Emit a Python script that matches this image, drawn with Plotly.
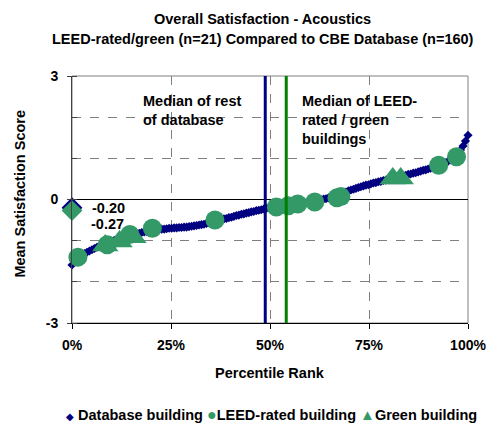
import plotly.graph_objects as go

# ---------------- data ----------------
db_scores = [
    -1.59, -1.50, -1.44, -1.40, -1.36, -1.31, -1.28, -1.25, -1.22, -1.19,
    -1.16, -1.13, -1.10, -1.08, -1.05, -1.03, -1.01, -0.99, -0.97, -0.95,
    -0.93, -0.91, -0.89, -0.88, -0.86, -0.85, -0.83, -0.82, -0.80, -0.79,
    -0.78, -0.77, -0.76, -0.75, -0.74, -0.73, -0.72, -0.72, -0.71, -0.70,
    -0.70, -0.69, -0.69, -0.68, -0.68, -0.67, -0.67, -0.66, -0.65, -0.64,
    -0.63, -0.62, -0.61, -0.60, -0.58, -0.57, -0.55, -0.54, -0.52, -0.51,
    -0.49, -0.47, -0.46, -0.44, -0.43, -0.41, -0.39, -0.38, -0.36, -0.35,
    -0.33, -0.32, -0.30, -0.29, -0.27, -0.26, -0.25, -0.23, -0.22, -0.20,
    -0.20, -0.19, -0.19, -0.18, -0.18, -0.17, -0.17, -0.16, -0.15, -0.14,
    -0.13, -0.12, -0.10, -0.09, -0.08, -0.07, -0.06, -0.04, -0.03, -0.02,
    -0.01, 0.01, 0.02, 0.04, 0.06, 0.08, 0.10, 0.12, 0.14, 0.16,
    0.18, 0.21, 0.23, 0.25, 0.27, 0.29, 0.31, 0.33, 0.35, 0.36,
    0.38, 0.40, 0.41, 0.43, 0.44, 0.46, 0.47, 0.49, 0.50, 0.52,
    0.53, 0.55, 0.56, 0.58, 0.59, 0.61, 0.62, 0.64, 0.65, 0.67,
    0.69, 0.71, 0.72, 0.74, 0.76, 0.78, 0.80, 0.82, 0.84, 0.86,
    0.89, 0.93, 0.96, 1.00, 1.05, 1.12, 1.20, 1.30, 1.42, 1.56,
]
# percentile rank of each database building (rank / (n-1))
db_pct = [100 * i / (len(db_scores) - 1) for i in range(len(db_scores))]

leed_pct = [1.5, 8.9, 14.6, 20.3, 36.1, 51.6, 54.6, 57.0, 61.3, 66.9, 67.9, 92.6, 97.1]
leed_scores = [-1.40, -1.10, -0.85, -0.70, -0.50, -0.18, -0.15, -0.11, -0.06, 0.04, 0.07, 0.83, 1.04]

green_pct = [8.4, 12.0, 15.5, 81.0, 83.0]
green_scores = [-1.12, -1.02, -0.92, 0.51, 0.51]

median_rest_pct = 48.8
median_leed_pct = 54.1
median_rest_score = -0.20
median_leed_score = -0.27

x_tickvals = [0, 25, 50, 75, 100]
x_ticktext = ["0%", "25%", "50%", "75%", "100%"]
y_tickvals = [-3, 0, 3]
y_ticktext = ["-3", "0", "3"]

NAVY = "#000080"
SEA = "#339966"
GREEN = "#008000"
FONT = "Arial, Liberation Sans, sans-serif"
FS = 14.5

fig = go.Figure()

fig.add_trace(go.Scatter(
    x=db_pct, y=db_scores, mode="markers", cliponaxis=False,
    marker=dict(symbol="diamond", size=7, color=NAVY), showlegend=False))
fig.add_trace(go.Scatter(
    x=leed_pct, y=leed_scores, mode="markers", cliponaxis=False,
    marker=dict(symbol="circle", size=19, color=SEA), showlegend=False))
fig.add_trace(go.Scatter(
    x=green_pct, y=green_scores, mode="markers", cliponaxis=False,
    marker=dict(symbol="triangle-up", size=23, color=SEA), showlegend=False))
# median markers at x = 0
fig.add_trace(go.Scatter(
    x=[0], y=[median_rest_score], mode="markers", cliponaxis=False,
    marker=dict(symbol="diamond", size=16, color=NAVY), showlegend=False))
fig.add_trace(go.Scatter(
    x=[0], y=[median_leed_score], mode="markers", cliponaxis=False,
    marker=dict(symbol="diamond", size=16, color=SEA), showlegend=False))
# median vertical lines
fig.add_trace(go.Scatter(
    x=[median_rest_pct, median_rest_pct], y=[-3, 3], mode="lines",
    line=dict(color=NAVY, width=3), showlegend=False))
fig.add_trace(go.Scatter(
    x=[median_leed_pct, median_leed_pct], y=[-3, 3], mode="lines",
    line=dict(color=GREEN, width=3), showlegend=False))

# plot border (top/right grey)
fig.add_shape(type="rect", xref="paper", yref="paper", x0=0, x1=1, y0=0, y1=1,
              line=dict(color="#808080", width=1), layer="below")

annots = [
    dict(text="<b>Overall Satisfaction - Acoustics</b>", x=0.482, y=1.231),
    dict(text="<b>LEED-rated/green (n=21) Compared to CBE Database (n=160)</b>", x=0.482, y=1.150),
]
for a in annots:
    fig.add_annotation(xref="paper", yref="paper", showarrow=False,
                       xanchor="center", yanchor="middle",
                       font=dict(family=FONT, size=FS, color="black"), **a)

fig.add_annotation(xref="paper", yref="paper", x=-0.130, y=0.522, textangle=-90,
                   xanchor="center", yanchor="middle",
                   text="<b>Mean Satisfaction Score</b>", showarrow=False,
                   font=dict(family=FONT, size=FS, color="black"))
fig.add_annotation(xref="paper", yref="paper", x=0.5, y=-0.204,
                   xanchor="center", yanchor="middle",
                   text="<b>Percentile Rank</b>", showarrow=False,
                   font=dict(family=FONT, size=FS, color="black"))

# data labels of medians
fig.add_annotation(x=4.6, y=median_rest_score, xanchor="left", yanchor="middle",
                   text="<b>%.2f</b>" % median_rest_score, showarrow=False,
                   font=dict(family=FONT, size=FS, color="black"))
fig.add_annotation(x=4.4, y=-0.60, xanchor="left", yanchor="middle",
                   text="<b>%.2f</b>" % median_leed_score, showarrow=False,
                   font=dict(family=FONT, size=FS, color="black"))

fig.add_annotation(x=17.5, y=2.64, xanchor="left", yanchor="top", align="left",
                   text="<b>Median of rest<br>of database</b>", showarrow=False,
                   font=dict(family=FONT, size=FS, color="black"))
fig.add_annotation(x=57.5, y=2.64, xanchor="left", yanchor="top", align="left",
                   text="<b>Median of LEED-<br>rated / green<br>buildings</b>", showarrow=False,
                   font=dict(family=FONT, size=FS, color="black"))

# legend
legend_text = ("<span style='color:%s;font-size:10px'>◆</span> <b>Database building</b> "
               "<span style='color:%s;font-size:16px'>●</span><b>LEED-rated building</b> "
               "<span style='color:%s;font-size:15px'>▲</span><b>Green building</b>") % (NAVY, SEA, SEA)
fig.add_annotation(xref="paper", yref="paper", x=0.503, y=-0.372, text=legend_text,
                   showarrow=False, xanchor="center", yanchor="middle",
                   font=dict(family=FONT, size=FS, color="black"))

fig.update_layout(
    width=498, height=423,
    margin=dict(l=72, r=19, t=76, b=100),
    paper_bgcolor="white", plot_bgcolor="white",
    font=dict(family=FONT, size=FS, color="black"),
    xaxis=dict(range=[0, 100], tickvals=x_tickvals, ticktext=x_ticktext,
               showgrid=True, gridcolor="#808080", griddash="dash", gridwidth=1,
               showline=True, linecolor="black", linewidth=1,
               ticks="outside", ticklen=5, tickcolor="black",
               ticklabelstandoff=4,
               tickfont=dict(family=FONT, size=14, color="black", weight="bold"),
               zeroline=False, fixedrange=True),
    yaxis=dict(range=[-3, 3], tickvals=y_tickvals, ticktext=y_ticktext,
               showgrid=False, zeroline=True, zerolinecolor="black", zerolinewidth=1,
               showline=True, linecolor="#404040", linewidth=1,
               ticks="outside", ticklen=4, tickcolor="#404040",
               ticklabelstandoff=6,
               tickfont=dict(family=FONT, size=14, color="black", weight="bold"),
               minor=dict(dtick=1, showgrid=True, gridcolor="#808080", griddash="dash",
                          ticks="inside", ticklen=5, tickcolor="#404040"),
               fixedrange=True),
)

fig.write_html("out.html", config={"displayModeBar": False},
               post_script="document.body.style.margin='0';document.body.style.overflow='hidden';")
